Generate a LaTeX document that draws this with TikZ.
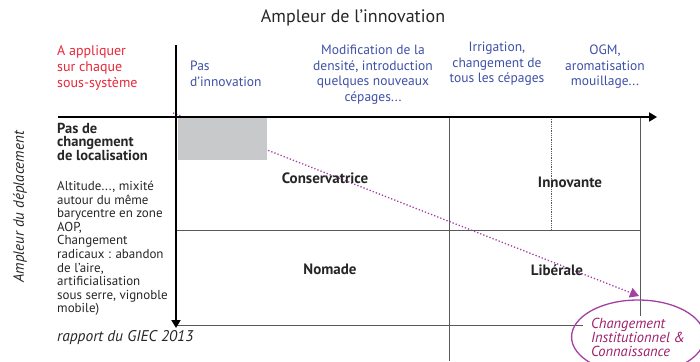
\documentclass[tikz,border=0pt]{standalone}
\usepackage{fontspec}
\setmainfont{PT Sans}
\usepackage{xcolor}
\usetikzlibrary{arrows.meta,shapes.geometric}
\definecolor{headblue}{HTML}{3D50A6}
\definecolor{applyred}{HTML}{E8283A}
\definecolor{linkpurple}{HTML}{A43FA4}
\definecolor{linktext}{HTML}{9E1F6A}
\definecolor{boxgray}{HTML}{C8C9CB}

\begin{document}
\begin{tikzpicture}[
    x=1pt, y=-1pt,
    every node/.style={inner sep=0pt, font=\fontsize{13.5}{15.5}\selectfont},
    head/.style={text=headblue, align=center, anchor=north},
    side/.style={align=left, anchor=north west, text=black!85},
    quad/.style={font=\fontsize{15}{17}\selectfont\bfseries, text=black!85},
    grid/.style={draw=black!65, line width=0.8pt},
    axis/.style={line width=1.8pt, -{Triangle[length=8pt,width=9pt]}},
    >=stealth
]
\useasboundingbox (0,0) rectangle (700,361);
\clip (0,0) rectangle (700,361);

\node[font=\fontsize{18}{20}\selectfont, text=black!85] (title) at (353,18) {Ampleur de l’innovation};

\node[side, text=applyred, font=\fontsize{14}{16}\selectfont] (apply) at (57,45) {A appliquer\\sur chaque\\sous-système};
\node[head, align=left, anchor=north west] (c1) at (190,61) {Pas\\d’innovation};
\node[head] (c2) at (373,45) {Modification de la\\densité, introduction\\quelques nouveaux\\cépages...};
\node[head] (c3) at (497,42) {Irrigation,\\changement de\\tous les cépages};
\node[head] (c4) at (605,45) {OGM,\\aromatisation\\mouillage...};

\node[side, font=\fontsize{14.5}{13.5}\selectfont\bfseries] (r1) at (57,123) {Pas de\\changement\\de localisation};
\node[side, font=\fontsize{13}{13.6}\selectfont] (r2) at (57,181) {Altitude..., mixité\\autour du même\\barycentre en zone\\AOP,\\Changement\\radicaux : abandon\\de l’aire,\\artificialisation\\sous serre, vignoble\\mobile)};
\node[anchor=west, font=\fontsize{15.5}{17}\selectfont\itshape, text=black!85] (giec) at (57,338) {rapport du GIEC 2013};
\node[rotate=90, font=\fontsize{15}{17}\selectfont\itshape, text=black!85] (ydepl) at (20,207) {Ampleur du déplacement};

\draw[grid] (449,117) -- (449,361);
\draw[grid] (640,117) -- (640,316);
\draw[grid, densely dotted] (551,117) -- (551,230);
\draw[grid] (176,230) -- (640,230);
\draw[grid] (176,325) -- (583,325);

\coordinate (dstart) at (173,113);
\coordinate (dtip) at (639,296);
\draw[linkpurple, line width=1.3pt, dotted, -{Triangle[length=9pt,width=10pt]}] (dstart) -- (dtip);

\node[fill=boxgray, minimum width=89, minimum height=42, anchor=north west] (nochange) at (178,118) {};

\draw[axis] (58,117) -- (657,117);
\draw[axis] (176,45) -- (176,328);

\node[quad] (cons) at (325,178) {Conservatrice};
\node[quad] (innov) at (570,182) {Innovante};
\node[quad] (nomade) at (330,269) {Nomade};
\node[quad] (liber) at (557,270) {Libérale};

\node[ellipse, draw=linkpurple, line width=1.3pt, minimum width=130, minimum height=74, align=left,
      text=linktext, font=\fontsize{14.5}{14}\selectfont\itshape] (inst) at (638,337)
      {Changement\\Institutionnel \&\\Connaissance};

\end{tikzpicture}
\end{document}
